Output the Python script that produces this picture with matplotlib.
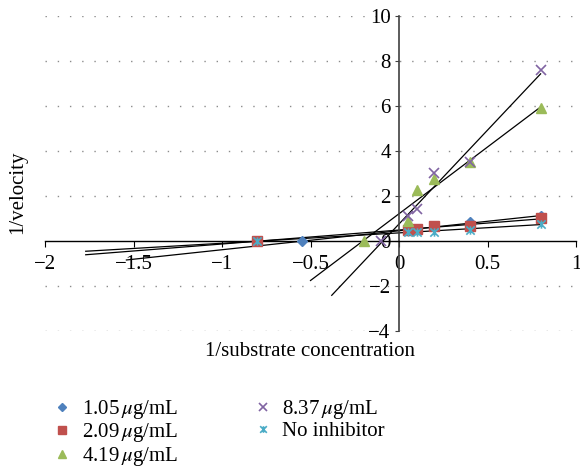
import numpy as np
import matplotlib
matplotlib.use("Agg")
import matplotlib.pyplot as plt
from matplotlib.path import Path

plt.rcParams['font.family'] = ['Liberation Serif', 'DejaVu Serif']
plt.rcParams['mathtext.fontset'] = 'stix'
plt.rcParams['font.size'] = 15

labels = ["1.05$\\,\\mu$g/mL", "2.09$\\,\\mu$g/mL", "4.19$\\,\\mu$g/mL",
          "8.37$\\,\\mu$g/mL", "No inhibitor"]
x_blue = [-0.55, 0.05, 0.1, 0.2, 0.4, 0.8]
y_blue = [0, 0.48, 0.52, 0.62, 0.83, 1.12]
x_red = [-0.8, 0.05, 0.1, 0.2, 0.4, 0.8]
y_red = [0, 0.50, 0.55, 0.66, 0.66, 1.02]
x_green = [-0.2, 0.05, 0.1, 0.2, 0.4, 0.8]
y_green = [0, 0.87, 2.27, 2.75, 3.49, 5.89]
x_purple = [-0.1, 0.05, 0.1, 0.2, 0.4, 0.8]
y_purple = [0, 1.09, 1.42, 3.01, 3.49, 7.62]
x_cyan = [-0.8, 0.05, 0.1, 0.2, 0.4, 0.8]
y_cyan = [0, 0.42, 0.42, 0.40, 0.50, 0.77]
# where each excel trendline (backward forecast) begins
trend_start = [-1.54, -1.77, -0.5, -0.38, -1.77]

star = Path([(-1, -1), (1, 1), (-1, 1), (1, -1), (0, -1), (0, 1)],
            [Path.MOVETO, Path.LINETO, Path.MOVETO, Path.LINETO, Path.MOVETO, Path.LINETO])

series = [(x_blue, y_blue, '#4F81BD', 'D', 4.8),
          (x_red, y_red, '#C0504D', 's', 6.5),
          (x_green, y_green, '#9BBB59', '^', 7.5),
          (x_purple, y_purple, '#8064A2', 'x', 6.5),
          (x_cyan, y_cyan, '#4BACC6', star, 6)]

fig = plt.figure(figsize=(5.8, 4.75), dpi=100)
ax = fig.add_axes([45 / 580, 1 - 331 / 475, 531 / 580, 315 / 475])

for y in [-4, -2, 2, 4, 6, 8, 10]:
    ax.axhline(y, color='#8c8c8c', lw=1, ls=(0, (1, 7.8)), zorder=0)

for (xs, ys, c, m, ms), lab, x0 in zip(series, labels, trend_start):
    k, b = np.polyfit(xs, ys, 1)
    xx = np.array([x0, 0.8])
    ax.plot(xx, k * xx + b, color='black', lw=0.9, zorder=2)
    ax.plot(xs, ys, ls='none', marker=m, color=c, ms=ms, mew=1.2 if m in ('x',) or m is star else 1,
            label=lab, zorder=3)

ax.set_xlim(-2, 1)
ax.set_ylim(-4, 10)
ax.spines['left'].set_position(('data', 0))
ax.spines['bottom'].set_position(('data', 0))
ax.spines['top'].set_visible(False)
ax.spines['right'].set_visible(False)
ax.spines['left'].set_color('#404040')
ax.spines['left'].set_linewidth(1.2)
ax.spines['bottom'].set_linewidth(1)
ax.set_xticks([-2, -1.5, -1, -0.5, 0, 0.5, 1])
ax.set_xticklabels(['\u22122', '\u22121.5', '\u22121', '\u22120.5', '0', '0.5', '1'])
ax.set_yticks([-4, -2, 0, 2, 4, 6, 8, 10])
ax.set_yticklabels(['\u22124', '\u22122', '0', '2', '4', '6', '8', '10'])
ax.tick_params(axis='x', direction='out', length=4, pad=6)
ax.tick_params(axis='y', direction='out', length=3, pad=3, color='#404040')
ax.patch.set_alpha(0)

fig.text(18 / 580, 1 - 192 / 475, '1/velocity', rotation=90, ha='center', va='center')
fig.text(310 / 580, 1 - 351 / 475, '1/substrate concentration', ha='center', va='center')

fig.legend(loc='upper left', bbox_to_anchor=(52 / 580, 1 - 398 / 475), ncol=2, frameon=False,
           borderpad=0, borderaxespad=0, handlelength=1.0, handletextpad=0.45,
           columnspacing=3.55, labelspacing=0.02, markerscale=0.8)

fig.savefig('out.png', dpi=100)
